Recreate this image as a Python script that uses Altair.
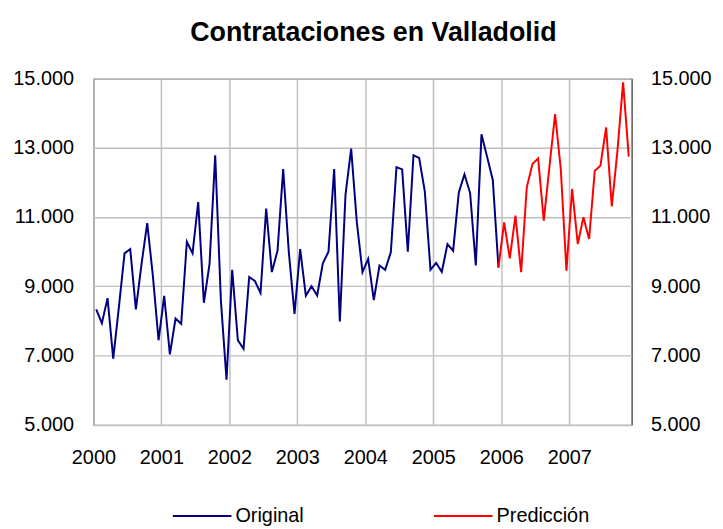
import altair as alt
import pandas as pd

# ---- data (monthly, Jan 2000 ... Nov 2007) ----
year_labels = ["2000", "2001", "2002", "2003", "2004", "2005", "2006", "2007"]

original = [
    8335, 7936, 8658, 6910, 8400, 9950, 10074, 8335, 9646, 10824, 9300, 7442,   # 2000
    8725, 7034, 8069, 7917, 10283, 9950, 11432, 8525, 9646, 12781, 8601, 6302,  # 2001
    9475, 7442, 7195, 9266, 9152, 8810, 11242, 9409, 10026, 12382, 9979, 8202,  # 2002
    10074, 8725, 9000, 8734, 9665, 9998, 12382, 7984, 11641, 12971, 10850, 9409,  # 2003
    9789, 8601, 9599, 9475, 9979, 12439, 12373, 9998, 12781, 12705, 11736, 9475,  # 2004
    9675, 9418, 10216, 10026, 11708, 12230, 11689, 9599, 13389, 12734, 12069, 9540,  # 2005
]

# prediction starts at the last original point (Dec 2005) and runs to Nov 2007
prediccion = [
    9540,
    10846, 9808, 11038, 9404, 11856, 12529, 12692, 10894, 12450, 13971, 12385, 9452,  # 2006
    11808, 10221, 10990, 10365, 12336, 12481, 13586, 11308, 12900, 14884, 12740,      # 2007
]

series_names = ["Original", "Predicción"]
series_colors = ["#000080", "#FF0000"]
y_ticks = [5000, 7000, 9000, 11000, 13000, 15000]

rows = []
for i, v in enumerate(original):
    rows.append({"idx": i, "valor": v, "serie": series_names[0]})
start_pred = len(original) - 1
for j, v in enumerate(prediccion):
    rows.append({"idx": start_pred + j, "valor": v, "serie": series_names[1]})
df = pd.DataFrame(rows)

n_points = start_pred + len(prediccion)  # 95 categories
x_domain = [-0.5, n_points - 0.5]
x_ticks = [12 * k - 0.5 for k in range(len(year_labels))]
year_expr = "'' + round(" + str(int(year_labels[0])) + " + (datum.value + 0.5) / 12)"
thousand_expr = "replace(format(datum.value, ','), ',', '.')"

FONT = "Liberation Sans"
axis_style = dict(
    labelFont=FONT, labelFontSize=20, labelColor="#000000",
    domain=False, ticks=False, tickSize=0, title=None,
    gridColor="#C0C0C0", gridWidth=1.5, gridOpacity=1,
)

x_scale = alt.Scale(domain=x_domain, nice=False, zero=False)
y_scale = alt.Scale(domain=[y_ticks[0], y_ticks[-1]], nice=False, zero=False)

lines = alt.Chart(df).mark_line(strokeWidth=2).encode(
    x=alt.X(
        "idx:Q", scale=x_scale,
        axis=alt.Axis(values=x_ticks, labelExpr=year_expr, grid=True,
                      labelPadding=23, labelFlush=False, labelOverlap=False,
                      labelBound=False, **axis_style),
    ),
    y=alt.Y(
        "valor:Q", scale=y_scale,
        axis=alt.Axis(values=y_ticks, labelExpr=thousand_expr, grid=True,
                      orient="left", labelPadding=20, **axis_style),
    ),
    color=alt.Color(
        "serie:N",
        scale=alt.Scale(domain=series_names, range=series_colors),
        sort=series_names,
        legend=alt.Legend(
            title=None, orient="none", direction="horizontal",
            legendX=79, legendY=410,
            symbolType="stroke", symbolSize=3481, symbolStrokeWidth=2,
            labelFontSize=20, labelFont=FONT, labelColor="#000000",
            labelOffset=3, columnPadding=127, padding=0,
        ),
    ),
    detail="serie:N",
)

right_axis = alt.Chart(df).mark_line(strokeOpacity=0).encode(
    x=alt.X("idx:Q", scale=x_scale),
    y=alt.Y(
        "valor:Q", scale=y_scale,
        axis=alt.Axis(values=y_ticks, labelExpr=thousand_expr, grid=False,
                      orient="right", labelPadding=19, **axis_style),
    ),
)

chart = (
    alt.layer(lines, right_axis)
    .resolve_scale(y="independent")
    .properties(
        width=542,
        height=349,
        autosize=alt.AutoSizeParams(type="none"),
        padding={"left": 86, "top": 69, "right": 84, "bottom": 102},
        background="#FFFFFF",
        title=alt.TitleParams(
            "Contrataciones en Valladolid",
            font=FONT, fontSize=27, fontWeight="bold",
            color="#000000", anchor="middle", dx=11, offset=22,
        ),
    )
    .configure_view(stroke="#000000", strokeWidth=1)
)

chart.save("out.html", embed_options={"renderer": "svg", "actions": False})
